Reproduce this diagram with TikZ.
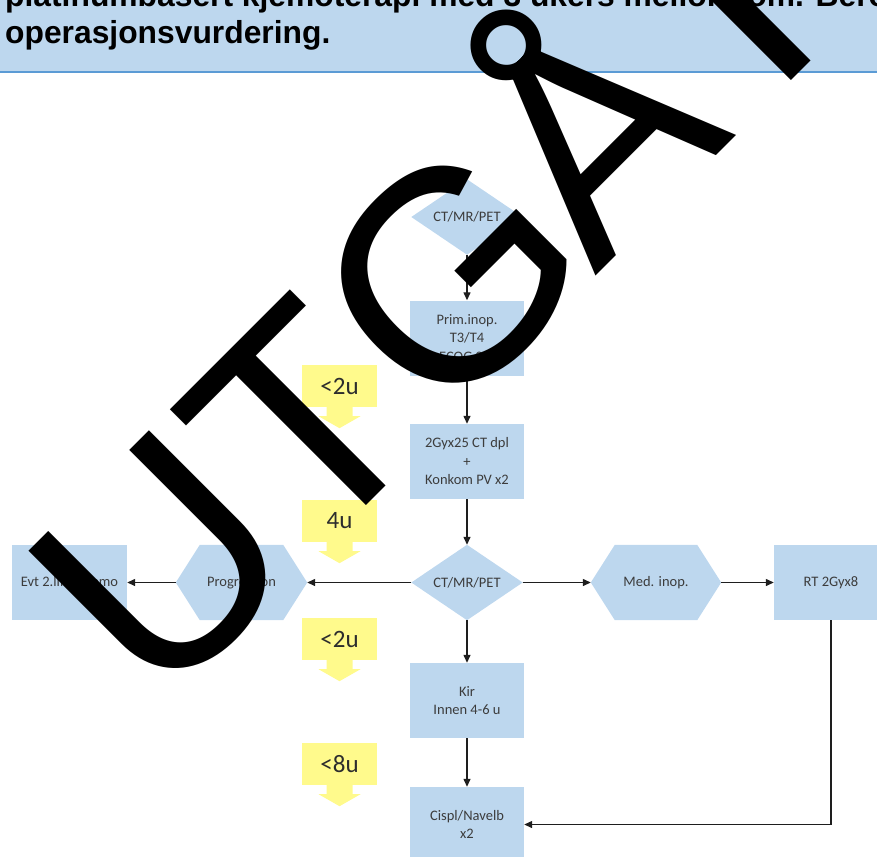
\documentclass[tikz,border=0pt]{standalone}
\usepackage{fontspec}
\setmainfont{Carlito}
\newfontfamily\headfont{Liberation Sans}
\newfontfamily\markfont{Liberation Sans}
\usetikzlibrary{arrows.meta,backgrounds}

\definecolor{boxblue}{RGB}{189,215,238}
\definecolor{ruleblue}{RGB}{91,155,213}
\definecolor{notey}{RGB}{255,250,140}
\definecolor{boxtext}{RGB}{60,60,60}
\definecolor{notetext}{RGB}{45,45,45}
\definecolor{linegray}{RGB}{30,30,30}

\newcommand\flowtextsize{\fontsize{14.5}{18.5}\selectfont}
\newcommand\notetextsize{\fontsize{25}{28}\selectfont}
\newcommand\headtextsize{\fontsize{31.8}{37}\selectfont}

\begin{document}
\begin{tikzpicture}[x=1pt, y=-1pt,
  flowbox/.style={rectangle, fill=boxblue, minimum width=114pt, minimum height=75pt,
    inner sep=0pt, align=center, text=boxtext, font=\flowtextsize},
  plainbox/.style={rectangle, minimum width=#1, minimum height=75pt,
    inner sep=0pt, align=center, text=boxtext, font=\flowtextsize},
  notebox/.style={rectangle, fill=notey, minimum width=75pt, minimum height=42pt,
    inner sep=0pt, text=notetext, font=\notetextsize},
  conn/.style={draw=linegray, line width=1.3pt, -{Triangle[length=8pt,width=7pt]}},
  headline/.style={anchor=base west, inner sep=0pt, text=black,
    font=\headfont\bfseries\headtextsize},
]
\useasboundingbox (0,0) rectangle (877,856);
\clip (0,0) rectangle (877,856);

% title band
\fill[boxblue] (0,-20) rectangle (877,72);
\draw[ruleblue, line width=2pt] (0,72) -- (877,72);
\node[headline] (headA) at (5,7) {platinumbasert kjemoterapi med 3 ukers mellomrom. Bero};
\node[headline] (headB) at (5,44) {operasjonsvurdering.};

% flow chart nodes
\node[plainbox=111pt] (ctA) at (467,217) {CT/MR/PET};
\node[flowbox] (prim) at (467,338) {Prim.inop.\\T3/T4\\ECOG 0-1};
\node[flowbox] (chemo) at (467,461.5) {2Gyx25 CT dpl\\+\\Konkom PV x2};
\node[plainbox=111pt] (ctB) at (467,582.5) {CT/MR/PET};
\node[plainbox=131pt] (prog) at (241.5,582.5) {Progression};
\node[flowbox, minimum width=115pt] (evt) at (69.5,582.5) {Evt 2.linje kjemo};
\node[plainbox=130pt] (med) at (656,582.5) {Med. inop.};
\node[flowbox] (rt) at (831,582.5) {RT 2Gyx8};
\node[flowbox] (kir) at (467,700.5) {Kir\\Innen 4-6 u};
\node[flowbox] (cispl) at (467,824.5) {Cispl/Navelb\\x2};

% diamond and hexagon fills behind their labels
\begin{scope}[on background layer]
  \foreach \dm in {ctA,ctB}
    \fill[boxblue] (\dm.north) -- (\dm.east) -- (\dm.south) -- (\dm.west) -- cycle;
  \foreach \hx in {prog,med}
    \fill[boxblue] (\hx.west) -- ([xshift=24pt]\hx.north west) -- ([xshift=-24pt]\hx.north east)
      -- (\hx.east) -- ([xshift=-24pt]\hx.south east) -- ([xshift=24pt]\hx.south west) -- cycle;
\end{scope}

% connectors
\draw[conn] (ctA.south) -- (prim.north);
\draw[conn] (prim.south) -- (chemo.north);
\draw[conn] (chemo.south) -- (ctB.north);
\draw[conn] (ctB.west) -- (prog.east);
\draw[conn] (prog.west) -- (evt.east);
\draw[conn] (ctB.east) -- (med.west);
\draw[conn] (med.east) -- (rt.west);
\draw[conn] (ctB.south) -- (kir.north);
\draw[conn] (kir.south) -- (cispl.north);
\draw[conn] (rt.south) |- (cispl.east);

% time notes with downward arrows
\foreach \nm/\yy/\tx in {noteA/386/{<2u}, noteB/521/{4u}, noteC/639/{<2u}, noteD/764/{<8u}} {
  \node[notebox] (\nm) at (339.5,\yy) {\tx};
  \fill[notey] (\nm.south) ++(-13,0) -- ++(0,9) -- ++(-8,0) -- ++(21,12)
    -- ++(21,-12) -- ++(-8,0) -- ++(0,-9) -- cycle;
}

% stamp across the sheet
\node[rotate=45, anchor=base west, inner sep=0pt, text=black,
  font=\markfont\fontsize{300}{300}\selectfont] (stamp) at (158,714)
  {UTG\kern-15ptÅTT};
\end{tikzpicture}
\end{document}
